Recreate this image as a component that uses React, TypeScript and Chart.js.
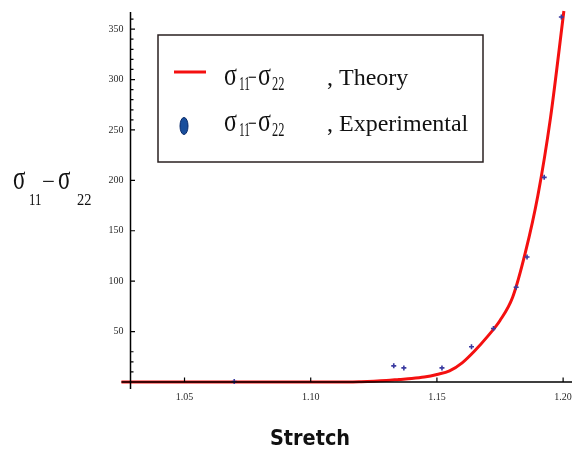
import { useEffect, useRef } from 'react';
import { Chart, registerables } from 'chart.js';

Chart.register(...registerables);

// ---- data ----
const theoryStretch = [1.025, 1.05, 1.08, 1.10, 1.115, 1.12, 1.125, 1.13, 1.135, 1.14, 1.145, 1.15, 1.155, 1.16, 1.165, 1.17, 1.175, 1.18, 1.185, 1.19, 1.195, 1.2003];
const theoryStress = [0, 0, 0, 0, 0, 0.3, 0.8, 1.5, 2.5, 3.5, 5, 7.5, 11, 19, 31, 45, 61, 84, 128, 185, 262, 368];

const expStretch = [1.0697, 1.1329, 1.1369, 1.152, 1.1637, 1.1724, 1.1814, 1.1857, 1.1925, 1.1993];
const expStress = [0.5, 16, 14, 14, 35, 53, 94, 124, 203, 362];

const xTickValues = [1.05, 1.10, 1.15, 1.20];
const yTickValues = [50, 100, 150, 200, 250, 300, 350];
const yMinorTickValues = [10, 20, 30, 260, 270, 280, 290, 310, 320, 330, 340, 360];

const seriesNames = ['Theory', 'Experimental'];
const xTitle = 'Stretch';

const RED = '#f41010';
const BLUE = '#3a3aa0';

function txt(ctx: CanvasRenderingContext2D, s: string, x: number, y: number, font: string, sx = 1, sy = 1, align: CanvasTextAlign = 'left') {
  ctx.save();
  ctx.translate(x, y);
  ctx.scale(sx, sy);
  ctx.font = font;
  ctx.textAlign = align;
  ctx.textBaseline = 'alphabetic';
  ctx.fillStyle = '#111';
  ctx.fillText(s, 0, 0);
  ctx.restore();
}

const SERIF = '"Liberation Serif", "Times New Roman", serif';

function drawSigma(ctx: CanvasRenderingContext2D, x: number, base: number, p: any) {
  txt(ctx, 'σ', x + p.s1, base, `${p.main}px ${SERIF}`, 1, p.sy);
  txt(ctx, '11', x + p.sub1, base + p.drop, `${p.sub}px ${SERIF}`, p.ssx1, 1);
  txt(ctx, '−', x + p.minus, base, `${p.main}px ${SERIF}`, p.msx, 1);
  txt(ctx, 'σ', x + p.s2, base, `${p.main}px ${SERIF}`, 1, p.sy);
  txt(ctx, '22', x + p.sub2, base + p.drop, `${p.sub}px ${SERIF}`, p.ssx2, 1);
}

const decorPlugin = {
  id: 'decor',
  afterDatasetsDraw(chart: any) {
    const ctx: CanvasRenderingContext2D = chart.ctx;
    const xs = chart.scales.x;
    const ys = chart.scales.y;
    const ax = xs.getPixelForValue(xs.min);
    const ay = ys.getPixelForValue(0);
    ctx.save();
    ctx.strokeStyle = '#000';
    ctx.lineWidth = 1.5;
    // axes
    ctx.beginPath();
    ctx.moveTo(ax, ys.getPixelForValue(ys.max));
    ctx.lineTo(ax, ay + 7);
    ctx.moveTo(ax - 9, ay);
    ctx.lineTo(chart.width, ay);
    ctx.stroke();
    // ticks (inward)
    ctx.lineWidth = 1.2;
    ctx.beginPath();
    for (const v of yTickValues) {
      const py = ys.getPixelForValue(v);
      ctx.moveTo(ax, py);
      ctx.lineTo(ax + 4.5, py);
    }
    for (const v of yMinorTickValues) {
      const py = ys.getPixelForValue(v);
      ctx.moveTo(ax, py);
      ctx.lineTo(ax + 3, py);
    }
    for (const v of xTickValues) {
      const px = xs.getPixelForValue(v);
      ctx.moveTo(px, ay);
      ctx.lineTo(px, ay - 4.5);
    }
    ctx.stroke();
    ctx.restore();
  },
  afterDraw(chart: any) {
    const ctx: CanvasRenderingContext2D = chart.ctx;
    ctx.save();
    // legend box
    ctx.fillStyle = '#fff';
    ctx.fillRect(158, 35, 325, 127);
    ctx.strokeStyle = '#2a2020';
    ctx.lineWidth = 1.5;
    ctx.strokeRect(158, 35, 325, 127);
    // theory row
    ctx.strokeStyle = RED;
    ctx.lineWidth = 3;
    ctx.beginPath();
    ctx.moveTo(174, 72);
    ctx.lineTo(206, 72);
    ctx.stroke();
    const lp = { s1: 224, sub1: 239, minus: 248, s2: 258, sub2: 272, main: 24, sub: 19, sy: 1.3, drop: 5, ssx1: 0.6, ssx2: 0.65, msx: 0.65 };
    drawSigma(ctx, 0, 85, lp);
    txt(ctx, ', ' + seriesNames[0], 327, 85, `24px ${SERIF}`);
    // experimental row
    ctx.fillStyle = '#1a4f9c';
    ctx.strokeStyle = '#0a2a6a';
    ctx.lineWidth = 1;
    ctx.beginPath();
    ctx.ellipse(184, 126, 4, 8.5, 0, 0, Math.PI * 2);
    ctx.fill();
    ctx.stroke();
    drawSigma(ctx, 0, 131, lp);
    txt(ctx, ', ' + seriesNames[1], 327, 131, `24px ${SERIF}`);

    // y title
    const tp = { s1: 13, sub1: 29, minus: 42, s2: 58, sub2: 77, main: 23, sub: 16, sy: 1.5, drop: 16, ssx1: 0.8, ssx2: 0.9, msx: 1 };
    drawSigma(ctx, 0, 189, tp);

    // x title
    txt(ctx, xTitle, 310, 445, 'bold 21px "DejaVu Sans", sans-serif', 0.92, 1, 'center');
    ctx.restore();
  },
};

export default function App() {
  const ref = useRef<HTMLCanvasElement | null>(null);
  useEffect(() => {
    if (!ref.current) return;
    const chart = new Chart(ref.current, {
      type: 'scatter',
      data: {
        datasets: [
          {
            type: 'line',
            label: 'σ11−σ22, ' + seriesNames[0],
            data: theoryStretch.map((x, i) => ({ x, y: theoryStress[i] })),
            borderColor: RED,
            backgroundColor: RED,
            borderWidth: 3,
            pointRadius: 0,
            cubicInterpolationMode: 'monotone',
            clip: false,
            order: 2,
          } as any,
          {
            type: 'scatter',
            label: 'σ11−σ22, ' + seriesNames[1],
            data: expStretch.map((x, i) => ({ x, y: expStress[i] })),
            borderColor: BLUE,
            backgroundColor: BLUE,
            pointStyle: 'cross',
            pointRadius: 2.5,
            borderWidth: 1.6,
            clip: false,
            order: 1,
          } as any,
        ],
      },
      options: {
        animation: false,
        responsive: false,
        devicePixelRatio: 1,
        layout: { padding: { top: 12, right: 2, left: 0, bottom: 0 } },
        plugins: { legend: { display: false }, tooltip: { enabled: false } },
        scales: {
          x: {
            type: 'linear',
            min: 1.0286,
            max: 1.2013,
            afterBuildTicks: (s: any) => { s.ticks = xTickValues.map((value) => ({ value })); },
            afterFit: (s: any) => { s.height = 67; s.paddingLeft = 0; s.paddingRight = 0; },
            ticks: {
              callback: (v: any) => Number(v).toFixed(2),
              font: { family: 'Liberation Serif', size: 10 },
              color: '#2a2a2a',
              padding: 9,
              maxRotation: 0,
              autoSkip: false,
            },
            grid: { display: false, drawTicks: false },
            border: { display: false },
          },
          y: {
            type: 'linear',
            min: 0,
            max: 367,
            afterBuildTicks: (s: any) => { s.ticks = yTickValues.map((value) => ({ value })); },
            afterFit: (s: any) => { s.width = 130.5; s.paddingTop = 0; s.paddingBottom = 0; },
            ticks: {
              callback: (v: any) => String(v),
              font: { family: 'Liberation Serif', size: 10 },
              color: '#2a2a2a',
              padding: 7,
              autoSkip: false,
            },
            grid: { display: false, drawTicks: false },
            border: { display: false },
          },
        },
      },
      plugins: [decorPlugin],
    });
    return () => chart.destroy();
  }, []);
  return (
    <div style={{ position: 'fixed', left: 0, top: 0, width: 572, height: 449, background: '#fff' }}>
      <canvas ref={ref} width={572} height={449} style={{ display: 'block' }} />
    </div>
  );
}
